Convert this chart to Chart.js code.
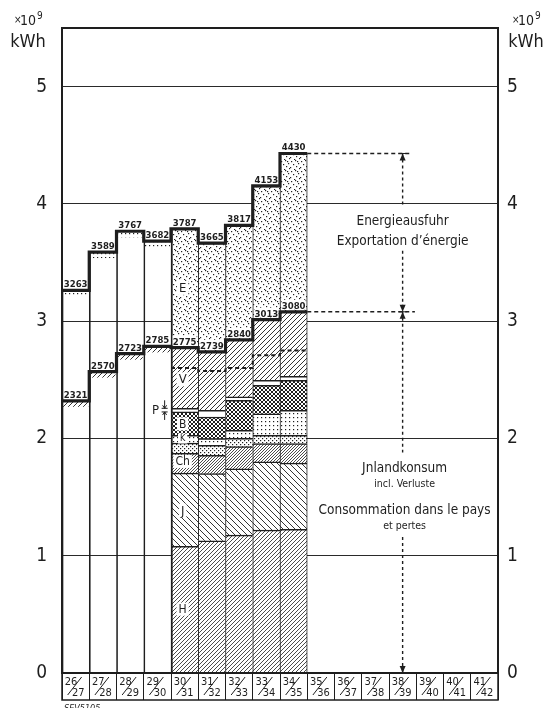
<!DOCTYPE html>
<html>
<head>
<meta charset="utf-8">
<script src="https://cdn.jsdelivr.net/npm/chart.js@4.4.1/dist/chart.umd.min.js"></script>
<style>
  html, body { margin: 0; padding: 0; background: #fff; }
  #wrap { width: 550px; height: 708px; }
</style>
</head>
<body>
<div id="wrap"><canvas id="chart" width="550" height="708"></canvas></div>
<script>
/* Energieproduktion der Schweiz 1926/27 – 1934/35 (×10^6 kWh) */

const years = ['26/27', '27/28', '28/29', '29/30', '30/31', '31/32', '32/33', '33/34', '34/35',
               '35/36', '36/37', '37/38', '38/39', '39/40', '40/41', '41/42'];
const yTicks = [0, 1, 2, 3, 4, 5];

// Gesamterzeugung und Inlandkonsum (obere / untere dicke Linie)
const totalProduction = [3263, 3589, 3767, 3682, 3787, 3665, 3817, 4153, 4430];
const inlandConsumption = [2321, 2570, 2723, 2785, 2775, 2739, 2840, 3013, 3080];

// Aufteilung 1930/31 – 1934/35
const detailStart = 4;
const haushalt = [1080, 1127, 1175, 1218, 1225];   // H
const industrie = [624, 573, 565, 582, 565];       // J
const chemie = [170, 157, 190, 157, 167];          // Ch
const thermisch = [86, 85, 70, 70, 70];            // Streifen über Ch
const kessel = [67, 57, 70, 183, 213];             // K
const bahnen = [199, 184, 255, 243, 256];          // B
const pumpen = [31, 57, 29, 43, 34];               // P
const verluste = [518, 499, 486, 517, 550];        // V
const export_ = [1012, 926, 977, 1140, 1350];      // E
const verlusteDashed = [2600, 2575, 2600, 2710, 2750];

const FONT = "'DejaVu Sans Condensed', 'Liberation Sans Narrow', 'DejaVu Sans', sans-serif";
const INK = '#1e1e1e';

// --- Muster ---
function tile(size, draw) {
    const c = document.createElement('canvas');
    c.width = size; c.height = size;
    const g = c.getContext('2d');
    g.fillStyle = '#fff';
    g.fillRect(0, 0, size, size);
    g.strokeStyle = INK;
    g.fillStyle = INK;
    draw(g, size);
    return g.createPattern(c, 'repeat');
}
function hatch(size, lw, dir) {
    return tile(size, (g, s) => {
        g.lineWidth = lw;
        g.beginPath();
        for (const k of [-s, 0, s]) {
            if (dir === '/') { g.moveTo(k, s); g.lineTo(k + s, 0); }
            else { g.moveTo(k, 0); g.lineTo(k + s, s); }
        }
        g.stroke();
    });
}
function cross(size, lw) {
    return tile(size, (g, s) => {
        g.lineWidth = lw;
        g.beginPath();
        for (const k of [-s, 0, s]) {
            g.moveTo(k, s); g.lineTo(k + s, 0);
            g.moveTo(k, 0); g.lineTo(k + s, s);
        }
        g.stroke();
    });
}
function dots(size, pts) {
    return tile(size, (g) => {
        pts.forEach(p => g.fillRect(p[0], p[1], 1.2, 1.2));
    });
}

const patH = hatch(4, 0.8, '/');
const patJ = hatch(6, 0.9, '\\');
const patCh = hatch(3, 0.8, '/');
const patT = dots(4, [[0, 0], [2, 2]]);
const patK = dots(4, [[1, 1]]);
const patB = cross(4, 1);
const patV = hatch(5, 0.9, '/');
const patE = dots(10, [[1, 1], [5, 0], [8, 3], [3, 4], [6, 6], [0, 7], [9, 8], [4, 9], [7, 1]]);

// --- Datensätze ---
const G = v => v / 1000;
function detail(arr) {
    return years.map((_, i) => (i >= detailStart && i < detailStart + arr.length) ? G(arr[i - detailStart]) : null);
}
function stepLine(arr, start) {
    const pts = arr.map((v, i) => ({ x: start + i - 0.5, y: G(v) }));
    pts.push({ x: start + arr.length - 0.5, y: G(arr[arr.length - 1]) });
    return pts;
}

const lastCol = totalProduction.length - 1;
const barCommon = {
    type: 'bar', borderColor: INK, borderSkipped: 'start', grouped: false,
    barPercentage: 1, categoryPercentage: 1,
    xAxisID: 'x', yAxisID: 'y', stack: 's', order: 2
};
function barSet(label, arr, pattern) {
    return Object.assign({}, barCommon, {
        label: label, data: detail(arr), backgroundColor: pattern,
        borderWidth: c => ({
            top: 1.5,
            left: c.dataIndex === detailStart ? 2 : 1,
            right: c.dataIndex === lastCol ? 1 : 0,
            bottom: 0
        })
    });
}
function lineSet(data, width, dash, extra) {
    return Object.assign({
        type: 'line', data: data, borderColor: INK, borderWidth: width, borderDash: dash || [],
        pointRadius: 0, fill: false, xAxisID: 'xl', yAxisID: 'yl', order: 1
    }, extra || {});
}

const frameData = years.map((_, i) => i < detailStart ? G(totalProduction[i]) : null);

const datasets = [
    barSet('H', haushalt, patH),
    barSet('J', industrie, patJ),
    barSet('Ch', chemie, patCh),
    barSet('T', thermisch, patT),
    barSet('K', kessel, patK),
    barSet('B', bahnen, patB),
    barSet('P', pumpen, '#fff'),
    barSet('V', verluste, patV),
    barSet('E', export_, patE),
    Object.assign({}, barCommon, {
        label: 'frame', data: frameData, backgroundColor: 'rgba(0,0,0,0)',
        borderWidth: { top: 0, left: 1, right: 0, bottom: 0 }
    }),
    lineSet(stepLine(totalProduction, 0), 3.2, null, { stepped: 'before', order: 0 }),
    lineSet(stepLine(inlandConsumption, 0), 3.2, null, { stepped: 'before', order: 0 }),
    lineSet(stepLine(verlusteDashed, detailStart), 2, [4, 3], { stepped: 'before' })
];

// Hilfslinien rechts (Pfeil bei 38/39)
const arrowCol = 12;
const extTotal = [{ x: 8.5, y: G(4430) }, { x: 12.35, y: G(4430) }];
const extInland = [{ x: 8.5, y: G(3080) }, { x: 12.45, y: G(3080) }];
const arrowSegments = [[4.43, 3.97], [3.60, 3.08], [3.08, 1.88], [1.16, 0]];
[extTotal, extInland].forEach(d => datasets.push(lineSet(d, 1.4, [4, 3])));
arrowSegments.forEach(s => datasets.push(
    lineSet([{ x: arrowCol, y: s[0] }, { x: arrowCol, y: s[1] }], 1.4, [3, 3])
));

// --- Beschriftungen ---
function text(ctx, s, x, y, size, align, weight) {
    ctx.font = `${weight || ''} ${size}px ${FONT}`;
    ctx.textAlign = align || 'center';
    ctx.fillText(s, x, y);
}

const annotations = {
    id: 'annotations',
    beforeDatasetsDraw(chart) {
        const ctx = chart.ctx, xs = chart.scales.x, ys = chart.scales.y;
        const w = xs.getPixelForValue(1) - xs.getPixelForValue(0);
        ctx.save();
        for (let i = 0; i < detailStart; i++) {
            const x0 = xs.getPixelForValue(i) - w / 2;
            ctx.fillStyle = patK;
            ctx.fillRect(x0 + 1, ys.getPixelForValue(G(totalProduction[i])), w - 2, 6);
            ctx.fillStyle = patV;
            ctx.fillRect(x0 + 1, ys.getPixelForValue(G(inlandConsumption[i])), w - 2, 6);
        }
        ctx.restore();
    },
    afterDatasetsDraw(chart) {
        const ctx = chart.ctx, xs = chart.scales.x, ys = chart.scales.y;
        ctx.save();
        ctx.fillStyle = INK;
        ctx.textBaseline = 'alphabetic';
        // Zahlen über den Linien
        for (let i = 0; i < totalProduction.length; i++) {
            const cx = xs.getPixelForValue(i);
            [totalProduction[i], inlandConsumption[i]].forEach((v, k) => {
                const y = ys.getPixelForValue(G(v)) - 3;
                if (k === 1 && i >= detailStart) {
                    ctx.fillStyle = '#fff';
                    ctx.fillRect(cx - 12, y - 9, 24, 10);
                    ctx.fillStyle = INK;
                }
                text(ctx, String(v), cx, y, 9.5, 'center', 'bold');
            });
        }
        // Buchstaben in Spalte 30/31
        const cx = xs.getPixelForValue(detailStart) - 2;
        const letters = [['E', 3.28, 13], ['V', 2.50, 13], ['B', 2.12, 12], ['K', 1.995, 9], ['Ch', 1.80, 12], ['J', 1.38, 13], ['H', 0.54, 12]];
        letters.forEach(([s, v, size]) => {
            const y = ys.getPixelForValue(v);
            ctx.font = `${size}px ${FONT}`;
            const tw = ctx.measureText(s).width;
            ctx.fillStyle = '#fff';
            ctx.fillRect(cx - tw / 2 - 2, y - size / 2 - 1, tw + 4, size + 1);
            ctx.fillStyle = INK;
            ctx.textBaseline = 'middle';
            text(ctx, s, cx, y, size, 'center');
        });
        // P mit Doppelpfeil
        const pTop = ys.getPixelForValue(G(inlandConsumption[detailStart] - verluste[0]));
        const pBot = ys.getPixelForValue(G(inlandConsumption[detailStart] - verluste[0] - pumpen[0]));
        const px = xs.getPixelForValue(detailStart) - 24;
        ctx.textBaseline = 'middle';
        text(ctx, 'P', px - 5, (pTop + pBot) / 2, 13, 'center');
        ctx.strokeStyle = INK; ctx.lineWidth = 1;
        ctx.beginPath();
        ctx.moveTo(px + 4, pTop - 8); ctx.lineTo(px + 4, pTop);
        ctx.moveTo(px + 2, pTop - 3); ctx.lineTo(px + 4, pTop); ctx.lineTo(px + 6, pTop - 3);
        ctx.moveTo(px + 4, pBot + 8); ctx.lineTo(px + 4, pBot);
        ctx.moveTo(px + 2, pBot + 3); ctx.lineTo(px + 4, pBot); ctx.lineTo(px + 6, pBot + 3);
        ctx.moveTo(px + 1, pTop); ctx.lineTo(px + 7, pTop);
        ctx.moveTo(px + 1, pBot); ctx.lineTo(px + 7, pBot);
        ctx.stroke();
        ctx.restore();
    },
    afterDraw(chart) {
        const ctx = chart.ctx, ca = chart.chartArea, xs = chart.scales.x, ys = chart.scales.y;
        ctx.save();
        ctx.strokeStyle = INK;
        ctx.fillStyle = INK;
        // Rahmen
        ctx.lineWidth = 2;
        ctx.strokeRect(ca.left, ca.top, ca.right - ca.left, ca.bottom - ca.top);
        ctx.lineWidth = 1.5;
        ctx.strokeRect(ca.left, ca.bottom, ca.right - ca.left, 27);
        // Jahresbeschriftung
        ctx.lineWidth = 1;
        ctx.textBaseline = 'alphabetic';
        years.forEach((lab, i) => {
            const [a, b] = lab.split('/');
            const cx = xs.getPixelForValue(i), t = ca.bottom;
            text(ctx, a, cx - 11, t + 12, 11, 'left');
            text(ctx, b, cx + 9, t + 23, 11, 'right');
            ctx.beginPath();
            ctx.moveTo(cx - 8, t + 22);
            ctx.lineTo(cx + 6, t + 4);
            ctx.stroke();
        });
        // Achsentitel
        [14, 512].forEach(x => {
            text(ctx, '\u00d7', x, 23, 10, 'left');
            text(ctx, '10', x + 6, 25, 14, 'left');
            text(ctx, '9', x + 23, 19, 10, 'left');
            text(ctx, 'kWh', x + 14, 47, 18, 'center');
        });
        // Texte rechts
        const tx = xs.getPixelForValue(arrowCol);
        text(ctx, 'Energieausfuhr', tx, ys.getPixelForValue(3.82), 13.5, 'center');
        text(ctx, 'Exportation d\u2019\u00e9nergie', tx, ys.getPixelForValue(3.65), 13.5, 'center');
        text(ctx, 'Jnlandkonsum', tx + 2, ys.getPixelForValue(1.71), 13.5, 'center');
        text(ctx, 'incl. Verluste', tx + 2, ys.getPixelForValue(1.59), 10.5, 'center');
        text(ctx, 'Consommation dans le pays', tx + 2, ys.getPixelForValue(1.36), 13.5, 'center');
        text(ctx, 'et pertes', tx + 2, ys.getPixelForValue(1.23), 10.5, 'center');
        // Pfeilspitzen
        const ax = xs.getPixelForValue(arrowCol);
        const head = (y, dir) => {
            ctx.beginPath();
            ctx.moveTo(ax, y);
            ctx.lineTo(ax - 3, y - dir * 7);
            ctx.lineTo(ax + 3, y - dir * 7);
            ctx.closePath();
            ctx.fill();
        };
        head(ys.getPixelForValue(G(4430)), -1);
        head(ys.getPixelForValue(G(3080)), 1);
        head(ys.getPixelForValue(G(3080)), -1);
        head(ys.getPixelForValue(0), 1);
        ctx.beginPath();
        ctx.moveTo(ax - 4, ys.getPixelForValue(G(4430))); ctx.lineTo(ax + 4, ys.getPixelForValue(G(4430)));
        ctx.moveTo(ax - 4, ys.getPixelForValue(G(3080))); ctx.lineTo(ax + 4, ys.getPixelForValue(G(3080)));
        ctx.stroke();
        // Archivnummer
        ctx.font = `italic 9px ${FONT}`;
        ctx.textAlign = 'left';
        ctx.fillText('SEV5105', ca.left + 2, 711);
        ctx.restore();
    }
};

new Chart(document.getElementById('chart').getContext('2d'), {
    data: { labels: years, datasets: datasets },
    options: {
        responsive: false,
        animation: false,
        devicePixelRatio: 1,
        layout: { padding: { top: 28, bottom: 8, left: 0, right: 0 } },
        plugins: { legend: { display: false }, tooltip: { enabled: false } },
        scales: {
            x: {
                type: 'category', position: 'bottom', offset: true, stacked: true,
                grid: { drawOnChartArea: false, drawTicks: true, tickLength: 27, color: INK, lineWidth: 1, offset: true },
                border: { display: false },
                ticks: { display: false }
            },
            xl: { type: 'linear', display: false, min: -0.5, max: years.length - 0.5 },
            yl: { type: 'linear', display: false, min: 0, max: 5.5, stacked: false },
            y: {
                type: 'linear', position: 'left', min: 0, max: 5.5, stacked: true, z: 1,
                afterFit: s => { s.width = 62; },
                afterBuildTicks: s => { s.ticks = yTicks.map(v => ({ value: v })); },
                grid: { color: '#2a2a2a', lineWidth: 1, drawTicks: false },
                border: { display: false },
                ticks: { color: INK, padding: 15, font: { size: 19, family: FONT } }
            },
            y2: {
                type: 'linear', position: 'right', min: 0, max: 5.5,
                afterFit: s => { s.width = 52; },
                afterBuildTicks: s => { s.ticks = yTicks.map(v => ({ value: v })); },
                grid: { display: false, drawTicks: false },
                border: { display: false },
                ticks: { color: INK, padding: 9, font: { size: 19, family: FONT } }
            }
        }
    },
    plugins: [annotations]
});
</script>
</body>
</html>
